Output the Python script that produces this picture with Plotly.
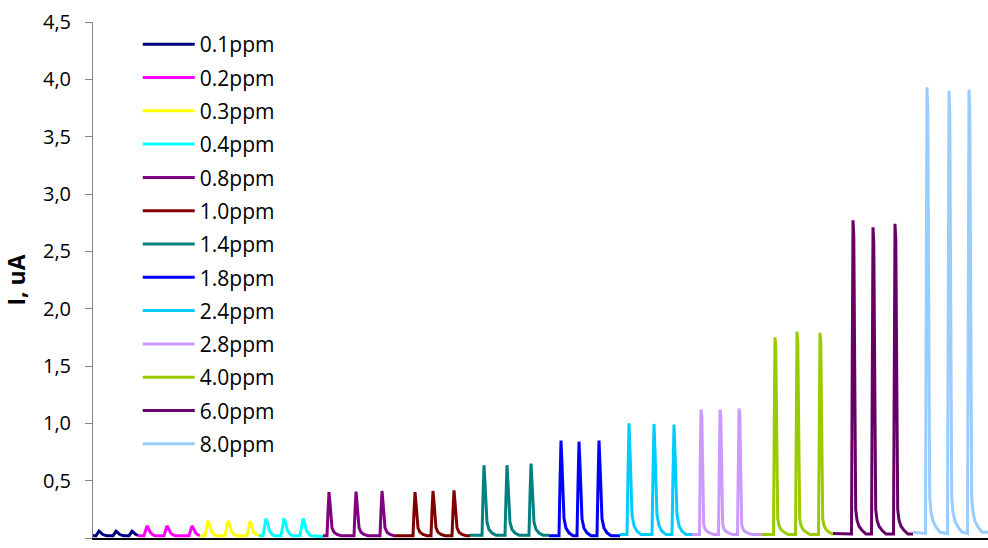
import plotly.graph_objects as go

# Flow-injection current traces, three injections per concentration.
# Time axis in seconds, current in microamperes.
labels = ["0.1ppm", "0.2ppm", "0.3ppm", "0.4ppm", "0.8ppm", "1.0ppm", "1.4ppm",
          "1.8ppm", "2.4ppm", "2.8ppm", "4.0ppm", "6.0ppm", "8.0ppm"]
colors = ["#000080", "#FF00FF", "#FFFF00", "#00FFFF", "#800080", "#800000", "#008080",
          "#0000FF", "#00CCFF", "#CC99FF", "#99CC00", "#660066", "#99CCFF"]

t_01 = [0, 3, 4.5, 6, 7, 8, 9.5, 11.5, 14, 20, 21.5, 23, 24, 25, 26.5, 28.5, 31,
        36, 37.5, 39, 40, 41, 42.5, 44.5, 45]
i_01 = [0.02, 0.02, 0.04, 0.06, 0.054, 0.044, 0.032, 0.025, 0.02, 0.02, 0.04, 0.06, 0.054, 0.044, 0.032, 0.025, 0.02,
        0.02, 0.04, 0.06, 0.054, 0.044, 0.032, 0.025, 0.023]

t_02 = [45, 51, 52.5, 54, 55, 56, 57.5, 59.5, 62, 71, 72.5, 74, 75, 76, 77.5, 79.5, 82,
        96, 97.5, 99, 100, 101, 102.5, 104.5, 107]
i_02 = [0.02, 0.02, 0.063, 0.105, 0.092, 0.071, 0.046, 0.03, 0.02, 0.02, 0.063, 0.105, 0.092, 0.071, 0.046, 0.03, 0.02,
        0.02, 0.063, 0.105, 0.092, 0.071, 0.046, 0.03, 0.02]

t_03 = [107, 112, 113.5, 115, 116, 117, 118.5, 120.5, 123, 132, 133.5, 135, 136, 137, 138.5, 140.5, 143,
        154, 155.5, 157, 158, 159, 160.5, 162.5, 166]
i_03 = [0.02, 0.02, 0.085, 0.15, 0.13, 0.098, 0.059, 0.036, 0.02, 0.02, 0.085, 0.15, 0.13, 0.098, 0.059, 0.036, 0.02,
        0.02, 0.085, 0.145, 0.125, 0.095, 0.057, 0.035, 0.02]

t_04 = [166, 170, 171.5, 173, 174, 175, 176.5, 178.5, 181, 188, 189.5, 191, 192, 193, 194.5, 196.5, 199,
        207, 208.5, 210, 211, 212, 213.5, 215.5, 218, 230]
i_04 = [0.02, 0.02, 0.095, 0.17, 0.148, 0.11, 0.065, 0.038, 0.02, 0.02, 0.095, 0.17, 0.148, 0.11, 0.065, 0.038, 0.02,
        0.02, 0.095, 0.17, 0.148, 0.11, 0.065, 0.038, 0.02, 0.012]

t_08 = [230, 234, 235, 236, 237, 238, 239, 241, 244, 248, 261, 262, 263, 264, 265, 266, 268, 271, 275,
        287, 288, 289, 290, 291, 292, 294, 297, 301, 302]
i_08 = [0.02, 0.02, 0.23, 0.40, 0.305, 0.153, 0.088, 0.05, 0.031, 0.02, 0.02, 0.23, 0.405, 0.31, 0.155, 0.09, 0.05, 0.031, 0.02,
        0.02, 0.235, 0.41, 0.31, 0.155, 0.09, 0.05, 0.031, 0.02, 0.02]

t_10 = [302, 320, 321, 322, 323, 324, 325, 327, 330, 334, 338, 339, 340, 341, 342, 343, 345, 348, 352,
        359, 360, 361, 362, 363, 364, 366, 369, 373, 377]
i_10 = [0.02, 0.02, 0.23, 0.40, 0.305, 0.153, 0.088, 0.05, 0.031, 0.02, 0.02, 0.235, 0.41, 0.31, 0.155, 0.09, 0.05, 0.031, 0.02,
        0.02, 0.235, 0.415, 0.315, 0.157, 0.09, 0.05, 0.031, 0.02, 0.02]

t_14 = [377, 389, 390, 391, 392, 393, 394, 396, 399, 403, 412, 413, 414, 415, 416, 417, 419, 422, 426,
        436, 437, 438, 439, 440, 441, 443, 446, 450, 456]
i_14 = [0.025, 0.025, 0.36, 0.635, 0.48, 0.24, 0.135, 0.074, 0.043, 0.025, 0.025, 0.36, 0.635, 0.48, 0.24, 0.135, 0.074, 0.043, 0.025,
        0.025, 0.37, 0.65, 0.49, 0.245, 0.137, 0.075, 0.043, 0.025, 0.025]

t_18 = [456, 466, 467, 468, 469, 470, 471, 473, 476, 480, 484, 485, 486, 487, 488, 489, 491, 494, 498,
        504, 505, 506, 507, 508, 509, 511, 514, 518, 527]
i_18 = [0.02, 0.02, 0.477, 0.85, 0.643, 0.31, 0.17, 0.086, 0.045, 0.02, 0.02, 0.47, 0.84, 0.635, 0.305, 0.168, 0.085, 0.045, 0.02,
        0.02, 0.477, 0.85, 0.643, 0.31, 0.17, 0.086, 0.045, 0.02, 0.02]

t_24 = [527, 534, 535, 536, 537, 538, 539, 541, 544, 548, 559, 560, 561, 562, 563, 564, 566, 569, 573,
        579, 580, 581, 582, 583, 584, 586, 589, 593, 599]
i_24 = [0.03, 0.03, 0.564, 1.0, 0.758, 0.37, 0.205, 0.108, 0.059, 0.03, 0.03, 0.56, 0.995, 0.755, 0.368, 0.204, 0.107, 0.059, 0.03,
        0.03, 0.557, 0.99, 0.75, 0.366, 0.203, 0.107, 0.059, 0.03, 0.03]

t_28 = [599, 606.5, 607.3, 608, 608.8, 609.7, 610.7, 612, 614, 617, 621,
        625.5, 626.3, 627, 627.8, 628.7, 629.7, 631, 633, 636, 640,
        644.5, 645.3, 646, 646.8, 647.7, 648.7, 650, 652, 655, 659, 669]
i_28 = [0.03, 0.03, 0.684, 1.12, 1.066, 0.52, 0.117, 0.079, 0.057, 0.043, 0.03,
        0.03, 0.684, 1.12, 1.066, 0.52, 0.117, 0.079, 0.057, 0.043, 0.03,
        0.03, 0.69, 1.13, 1.075, 0.525, 0.118, 0.079, 0.057, 0.043, 0.03, 0.03]

t_40 = [669, 680.5, 681.3, 682, 682.8, 683.7, 684.7, 686, 688, 691, 695,
        702.5, 703.3, 704, 704.8, 705.7, 706.7, 708, 710, 713, 717,
        725.5, 726.3, 727, 727.8, 728.7, 729.7, 731, 733, 736, 740]
i_40 = [0.03, 0.03, 1.05, 1.75, 1.66, 0.80, 0.17, 0.109, 0.074, 0.051, 0.03,
        0.03, 1.08, 1.80, 1.71, 0.82, 0.17, 0.109, 0.074, 0.051, 0.03,
        0.03, 1.08, 1.79, 1.70, 0.82, 0.17, 0.109, 0.074, 0.051, 0.03]

t_60 = [740, 758.5, 759.3, 760, 760.8, 761.7, 762.7, 764, 766, 769, 773,
        778.5, 779.3, 780, 780.8, 781.7, 782.7, 784, 786, 789, 793,
        800.5, 801.3, 802, 802.8, 803.7, 804.7, 806, 808, 811, 815, 820]
i_60 = [0.04, 0.035, 1.66, 2.77, 2.63, 1.26, 0.25, 0.155, 0.103, 0.067, 0.035,
        0.035, 1.62, 2.71, 2.57, 1.23, 0.25, 0.155, 0.103, 0.067, 0.035,
        0.035, 1.64, 2.74, 2.60, 1.25, 0.25, 0.155, 0.103, 0.067, 0.035, 0.035]

t_80 = [820, 832.5, 833.3, 834, 834.8, 835.7, 836.7, 838, 840, 843, 847,
        854.5, 855.3, 856, 856.8, 857.7, 858.7, 860, 862, 865, 869,
        874.5, 875.3, 876, 876.8, 877.7, 878.7, 880, 882, 885, 889, 895]
i_80 = [0.05, 0.04, 2.37, 3.93, 3.74, 1.79, 0.36, 0.224, 0.147, 0.096, 0.05,
        0.04, 2.35, 3.90, 3.71, 1.78, 0.36, 0.224, 0.147, 0.096, 0.05,
        0.04, 2.36, 3.91, 3.72, 1.78, 0.36, 0.224, 0.147, 0.096, 0.05, 0.05]

times = [t_01, t_02, t_03, t_04, t_08, t_10, t_14, t_18, t_24, t_28, t_40, t_60, t_80]
currents = [i_01, i_02, i_03, i_04, i_08, i_10, i_14, i_18, i_24, i_28, i_40, i_60, i_80]

FONT = "Open Sans"

fig = go.Figure()
for name, col, t, cur in zip(labels, colors, times, currents):
    fig.add_trace(go.Scatter(
        x=t, y=cur, mode="lines", name=name, legendgroup=name,
        line=dict(color=col, width=3),
    ))

fig.update_layout(
    width=988, height=548,
    margin=dict(l=93, r=0, t=22, b=10),
    paper_bgcolor="white", plot_bgcolor="white",
    separators=", ",
    font=dict(family=FONT, size=20, color="#000000"),
    showlegend=True,
    legend=dict(
        x=0.05, y=0.996, xanchor="left", yanchor="top",
        bgcolor="rgba(0,0,0,0)", borderwidth=0,
        font=dict(family=FONT, size=21, color="#000000"),
        traceorder="grouped", tracegroupgap=3, itemwidth=52,
    ),
    xaxis=dict(
        range=[0, 895], showgrid=False, zeroline=False,
        showline=True, linecolor="#000000", linewidth=1.5,
        showticklabels=False, ticks="",
    ),
    yaxis=dict(
        range=[0, 4.5], dtick=0.5, tick0=0, tickformat=".1f",
        showgrid=False, zeroline=False,
        showline=True, linecolor="#868686", linewidth=1,
        ticks="outside", ticklen=7, tickcolor="#868686", tickwidth=1,
        tickfont=dict(family=FONT, size=20, color="#000000"),
        ticklabelstandoff=10,
        title=dict(text="<b>I, uA</b>", font=dict(family=FONT, size=23, color="#000000"), standoff=12),
    ),
)

fig.write_html("out.html")
